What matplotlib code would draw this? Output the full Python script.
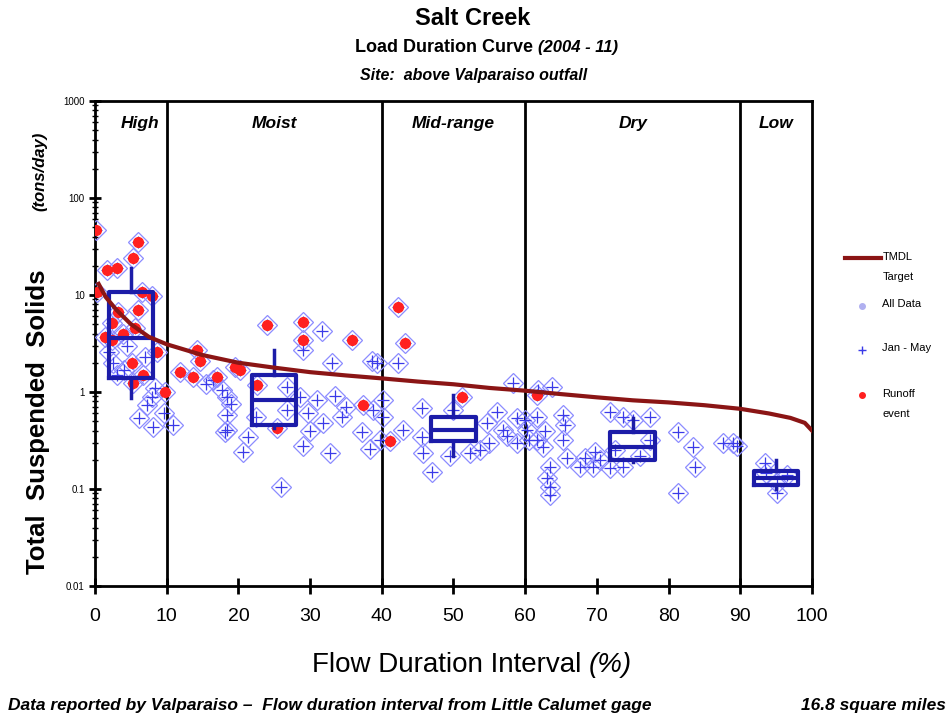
import matplotlib
matplotlib.use("Agg")
import numpy as np
import matplotlib.pyplot as plt
from matplotlib.lines import Line2D

font = "Liberation Sans"

# TMDL target curve (flow duration %, tons/day)
tmdl_pct = [0.5, 1.5, 3, 5, 7.5, 10, 15, 20, 25, 30, 35, 40, 45, 50, 55, 60,
            65, 70, 75, 80, 85, 90, 94, 97, 99, 100]
tmdl_val = [13, 9.5, 7, 5, 3.7, 3.1, 2.4, 2.0, 1.78, 1.6, 1.48, 1.38, 1.28, 1.2,
            1.1, 1.03, 0.95, 0.88, 0.82, 0.78, 0.73, 0.67, 0.6, 0.54, 0.48, 0.4]

# samples (diamond + cross)
data_pct = [2.5, 4.0, 3.0, 7.0, 8.3, 8.0, 7.3, 6.2, 8.1, 9.6, 4.5, 2.0,
            10.9, 31.7, 29, 33, 38.6, 35, 18.4, 18.4, 18.1, 20.6, 21.3, 26, 29, 32.8,
            31, 31.8, 29.7, 37.2, 38.4, 39.7, 17.7, 16.5, 26.8, 28.6, 26.8, 38.8,
            18.4, 15.5, 19.0, 22.5, 33.5, 34.5, 30,
            42.3, 39.3, 40.2, 40.2, 43, 45.6, 45.6, 45.7, 47, 49.5, 52.3, 53.7, 54.7,
            56, 56.9, 58.3, 58.9, 58.9, 60.2, 61.6, 63, 62.5, 50, 55, 57.5,
            60, 61.8, 63.7, 65.3, 65.5, 65.3, 65.8, 63.5, 63.5, 63.5, 61.6, 60.5,
            68.3, 69.7, 69.5, 67.6, 71.8, 73.6, 75, 77.4, 77.4, 73.6, 71.8, 81.3,
            83.4, 83.7, 81.3, 87.6, 89, 70.5, 72.5, 76, 62.8,
            89.5, 93.4, 95.1, 95.1, 96.5, 93.6]
data_val = [2.0, 1.7, 1.5, 2.3, 1.1, 0.89, 0.73, 0.54, 0.44, 0.6, 3.0, 2.6,
            0.46, 4.2, 2.7, 2.0, 2.1, 0.7, 0.89, 0.58, 0.39, 0.24, 0.34, 0.105, 0.28, 0.235,
            0.83, 0.48, 0.61, 0.39, 0.26, 0.32, 1.05, 1.33, 1.13, 0.89, 0.65, 0.65,
            0.41, 1.2, 0.75, 0.55, 0.9, 0.55, 0.4,
            2.0, 2.0, 0.83, 0.55, 0.41, 0.68, 0.34, 0.235, 0.15, 0.22, 0.235, 0.25, 0.48,
            0.62, 0.41, 1.24, 0.54, 0.3, 0.41, 0.55, 0.13, 0.27, 0.65, 0.3, 0.35,
            0.51, 1.05, 1.13, 0.58, 0.46, 0.32, 0.21, 0.17, 0.105, 0.086, 0.32, 0.32,
            0.21, 0.24, 0.17, 0.17, 0.62, 0.55, 0.51, 0.55, 0.32, 0.17, 0.165, 0.39,
            0.27, 0.17, 0.09, 0.3, 0.3, 0.2, 0.25, 0.22, 0.4,
            0.28, 0.185, 0.09, 0.115, 0.14, 0.146]

# runoff event samples
runoff_pct = [0.2, 0.3, 1.7, 3.0, 6.0, 5.3, 6.5, 8.0, 6.0, 3.2, 2.4, 5.6, 1.4, 2.4,
              3.9, 8.6, 5.2, 6.7, 9.8, 5.3,
              24, 29, 29, 35.8, 37.4, 25.4, 22.6, 14.2, 14.6, 11.9, 13.7, 17, 19.5, 20.2,
              42.3, 43.2, 41.1, 51.2, 61.6]
runoff_val = [47, 10.7, 18, 19, 35, 24, 10.7, 9.7, 7.0, 6.7, 5.1, 4.6, 3.7, 3.4,
              4.0, 2.6, 2.0, 1.5, 1.0, 1.24,
              4.9, 5.3, 3.4, 3.4, 0.73, 0.42, 1.18, 2.7, 2.1, 1.6, 1.43, 1.43, 1.8, 1.7,
              7.5, 3.2, 0.31, 0.89, 0.93]

# box plot per flow zone
box_pos = [5, 25, 50, 75, 95]
box_lo = [0.87, 0.42, 0.22, 0.19, 0.1]
box_q1 = [1.4, 0.46, 0.31, 0.2, 0.11]
box_med = [3.6, 0.83, 0.41, 0.27, 0.13]
box_q3 = [10.7, 1.5, 0.55, 0.39, 0.153]
box_hi = [19, 2.7, 0.93, 0.54, 0.2]

zone_edges = [10, 40, 60, 90]
zone_names = ["High", "Moist", "Mid-range", "Dry", "Low"]
zone_mid = [6.3, 25, 50, 75, 95]

legend_labels = ["TMDL\nTarget", "All Data", "Jan - May", "Runoff\nevent"]

fig = plt.figure(figsize=(9.53, 7.21), dpi=100)
ax = fig.add_axes([0.0997, 0.1873, 0.7523, 0.6727])

ax.plot(data_pct + runoff_pct, data_val + runoff_val, linestyle="none", marker="D",
        markersize=10, markerfacecolor="none", markeredgecolor="#8c8cff",
        markeredgewidth=0.9, zorder=3)
ax.plot(data_pct + runoff_pct, data_val + runoff_val, linestyle="none", marker="+",
        markersize=9, color="#3a3ae8", markeredgewidth=0.9, zorder=4)
ax.plot(runoff_pct, runoff_val, linestyle="none", marker="o", markersize=7,
        color="#ff2020", zorder=5)

stats = []
for i in range(len(box_pos)):
    stats.append(dict(whislo=box_lo[i], q1=box_q1[i], med=box_med[i],
                      q3=box_q3[i], whishi=box_hi[i]))
bp_style = dict(color="#1c1ca8", linewidth=3)
ax.bxp(stats, positions=box_pos, widths=6.2, showcaps=False, showfliers=False,
       boxprops=bp_style, whiskerprops=dict(color="#1c1ca8", linewidth=2.5),
       medianprops=bp_style, manage_ticks=False, zorder=6)

ax.plot(tmdl_pct, tmdl_val, color="#8b1515", linewidth=3, zorder=7)

for e in zone_edges:
    ax.axvline(e, color="black", linewidth=2, zorder=2)
for name, xm in zip(zone_names, zone_mid):
    ax.text(xm, 0.953, name, transform=ax.get_xaxis_transform(), ha="center",
            va="center", fontsize=12.5, fontweight="bold", style="italic",
            family=font)

ax.set_yscale("log")
ax.set_xlim(0, 100)
ax.set_ylim(0.01, 1000)
ax.set_xticks(range(0, 101, 10))
ax.set_yticks([0.01, 0.1, 1, 10, 100, 1000])
ax.set_yticklabels(["0.01", "0.1", "1", "10", "100", "1000"])
ax.tick_params(axis="x", direction="inout", length=12, width=2, pad=10,
               labelsize=14)
ax.tick_params(axis="y", which="major", direction="inout", length=8, width=2,
               labelsize=7)
ax.tick_params(axis="y", which="minor", direction="inout", length=4, width=1)
for lab in ax.get_xticklabels() + ax.get_yticklabels():
    lab.set_family(font)
for s in ax.spines.values():
    s.set_linewidth(2)

# titles
fig.text(0.496, 0.974, "Salt Creek", ha="center", va="center", fontsize=17,
         fontweight="bold", family=font)
t2 = fig.text(0.373, 0.934, "Load Duration Curve ", ha="left", va="center",
              fontsize=13, fontweight="bold", family=font)
ax.annotate("(2004 - 11)", xy=(1, 0.5), xycoords=t2, va="center", ha="left",
            fontsize=12, fontweight="bold", style="italic", family=font)
fig.text(0.4965, 0.895, "Site:  above Valparaiso outfall", ha="center", va="center",
         fontsize=11.5, fontweight="bold", style="italic", family=font)

# axis labels
fig.text(0.040, 0.415, "Total  Suspended  Solids", rotation=90, ha="center",
         va="center", fontsize=18.5, fontweight="bold", family=font)
fig.text(0.042, 0.762, "(tons/day)", rotation=90, ha="center", va="center",
         fontsize=12, fontweight="bold", style="italic", family=font)
xl = fig.text(0.327, 0.078, "Flow Duration Interval ", ha="left", va="center",
              fontsize=20, family=font)
ax.annotate("(%)", xy=(1, 0.5), xycoords=xl, va="center", ha="left",
            fontsize=20, style="italic", family=font)

# footer
fig.text(0.008, 0.022, "Data reported by Valparaiso \u2013  Flow duration interval from Little Calumet gage",
         ha="left", va="center", fontsize=12.5, fontweight="bold", style="italic",
         family=font)
fig.text(0.992, 0.022, "16.8 square miles", ha="right", va="center", fontsize=12.5,
         fontweight="bold", style="italic", family=font)

# legend (handle beside first line of each label, like the spreadsheet legend)
leg_y = [0.642, 0.576, 0.515, 0.452]
fig.add_artist(Line2D([0.887, 0.924], [leg_y[0], leg_y[0]], color="#8b1515",
                      linewidth=3, transform=fig.transFigure))
fig.add_artist(Line2D([0.905], [leg_y[1]], linestyle="none", marker="o",
                      markersize=4, color="#b0b0f0", transform=fig.transFigure))
fig.add_artist(Line2D([0.905], [leg_y[2]], linestyle="none", marker="+",
                      markersize=6, color="#3a3ae8", transform=fig.transFigure))
fig.add_artist(Line2D([0.905], [leg_y[3]], linestyle="none", marker="o",
                      markersize=4, color="#ff2020", transform=fig.transFigure))
for yy, lab in zip(leg_y, legend_labels):
    fig.text(0.926, yy + 0.009, lab, ha="left", va="top", fontsize=8,
             family=font, linespacing=2.3)

fig.savefig("out.png", dpi=100)
